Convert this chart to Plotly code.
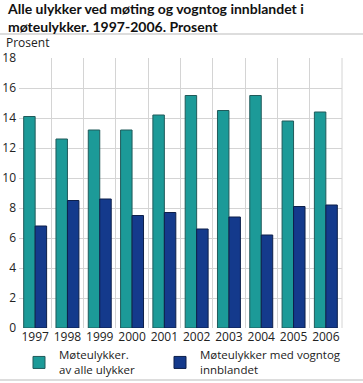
import plotly.graph_objects as go

years = ["1997", "1998", "1999", "2000", "2001", "2002", "2003", "2004", "2005", "2006"]
mote_alle = [14.1, 12.6, 13.2, 13.2, 14.2, 15.5, 14.5, 15.5, 13.8, 14.4]
mote_vogntog = [6.8, 8.5, 8.6, 7.5, 7.7, 6.6, 7.4, 6.2, 8.1, 8.2]
y_ticks = [0, 2, 4, 6, 8, 10, 12, 14, 16, 18]

W, H = 363, 383
L, R, T, B = 19, 21, 58, 55
pw, ph = W - L - R, H - T - B

font = "Open Sans, DejaVu Sans, sans-serif"

fig = go.Figure()
fig.add_trace(go.Bar(x=years, y=mote_alle, name="Møteulykker.<br>av alle ulykker", legend="legend",
                     marker=dict(color="#1c9a98", line=dict(color="#205a5a", width=1))))
fig.add_trace(go.Bar(x=years, y=mote_vogntog, name="Møteulykker med vogntog<br>innblandet", legend="legend2",
                     marker=dict(color="#143a8c", line=dict(color="#0d1f4a", width=1))))

leg_common = dict(orientation="v", xanchor="left", yanchor="top", itemwidth=30,
                  font=dict(size=11.5, color="#222"), bgcolor="rgba(0,0,0,0)")

fig.update_layout(
    width=W, height=H,
    margin=dict(l=L, r=R, t=T, b=B, autoexpand=False),
    paper_bgcolor="white", plot_bgcolor="white",
    font=dict(family=font, size=12, color="#222"),
    barmode="group", bargap=0.29, bargroupgap=0,
    showlegend=True,
    legend=dict(x=(19 - L) / pw, y=-(341 - 328) / ph, **leg_common),
    legend2=dict(x=(160 - L) / pw, y=-(341 - 328) / ph, **leg_common),
    xaxis=dict(type="category", tickson="boundaries", showgrid=True, gridcolor="#d4d4d4", gridwidth=1,
               ticks="", showline=False, tickfont=dict(size=12), range=[-0.5, 9.5],
               tickangle=0, automargin=False),
    yaxis=dict(range=[0, 18], tickvals=y_ticks, showgrid=True, gridcolor="#d4d4d4", gridwidth=1,
               zeroline=False, ticks="", showline=False, tickfont=dict(size=12), automargin=False,
               ticklabelstandoff=2),
    annotations=[
        dict(text="<b>Alle ulykker ved møting og vogntog innblandet i<br>møteulykker. 1997-2006. Prosent</b>",
             xref="paper", yref="paper", x=-(L - 5) / pw, y=1 + (T + 2) / ph, xanchor="left", yanchor="top",
             showarrow=False, align="left", font=dict(family="Lato, Open Sans, sans-serif", size=14, color="#111")),
        dict(text="Prosent", xref="paper", yref="paper", x=-(L - 4) / pw, y=1 + (T - 32) / ph,
             xanchor="left", yanchor="top", showarrow=False, font=dict(size=12, color="#222")),
    ],
    shapes=[
        dict(type="line", xref="paper", yref="paper", x0=-L / pw, x1=(W - L) / pw,
             y0=1 + (T - 34) / ph, y1=1 + (T - 34) / ph, line=dict(color="#bbbbbb", width=1)),
        dict(type="line", xref="paper", yref="paper", x0=-L / pw, x1=(W - L) / pw,
             y0=-(380 - 328) / ph, y1=-(380 - 328) / ph, line=dict(color="#bbbbbb", width=1)),
        dict(type="line", xref="paper", yref="paper", x0=1, x1=1, y0=0, y1=1,
             line=dict(color="#d4d4d4", width=1)),
    ],
)

fig.write_html("out.html", config={"displayModeBar": False},
               post_script="document.body.style.margin='0px';")
